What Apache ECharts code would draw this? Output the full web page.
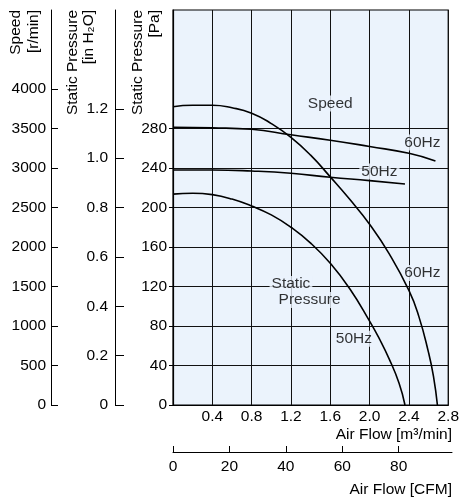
<!DOCTYPE html>
<html><head><meta charset="utf-8">
<script src="https://cdn.jsdelivr.net/npm/echarts@6/dist/echarts.min.js"></script>
<style>html,body{margin:0;padding:0;background:#fff}#c{width:462px;height:500px}</style>
</head><body><div id="c"></div>
<script>
// Static pressure [Pa] vs air flow [m3/min]
const p60Flow = [0, 0.2, 0.4, 0.6, 0.8, 1.0, 1.2, 1.4, 1.6, 1.8, 2.0, 2.2, 2.4, 2.5, 2.6, 2.65, 2.69];
const p60Pa   = [302, 303.5, 303.5, 301, 295.5, 285, 271, 253, 231, 208, 183, 153, 116, 90, 53, 29, 0];
const p50Flow = [0, 0.2, 0.4, 0.6, 0.8, 1.0, 1.2, 1.4, 1.6, 1.8, 2.0, 2.1, 2.2, 2.3, 2.36];
const p50Pa   = [213.5, 214.5, 213, 208.5, 201.5, 192.5, 180, 164, 143.5, 117.5, 85, 67, 46.5, 22, 0];
// Speed [r/min] vs air flow [m3/min]
const s60Flow = [0, 0.4, 0.8, 1.2, 1.6, 2.0, 2.4, 2.67];
const s60Rpm  = [3515, 3508, 3490, 3420, 3352, 3272, 3186, 3089];
const s50Flow = [0, 0.4, 0.8, 1.2, 1.6, 2.0, 2.36];
const s50Rpm  = [2975, 2975, 2962, 2933, 2882, 2840, 2797];
// Tick labels
const flowTicks = [0.4, 0.8, 1.2, 1.6, 2.0, 2.4, 2.8];
const cfmTicks = [0, 20, 40, 60, 80];
const paTicks = [0, 40, 80, 120, 160, 200, 240, 280];
const inH2OTicks = [0, 0.2, 0.4, 0.6, 0.8, 1.0, 1.2];
const rpmTicks = [0, 500, 1000, 1500, 2000, 2500, 3000, 3500, 4000];
// Annotations [flow, Pa, text]
const noteFlow = [1.6, 2.537, 2.10, 1.20, 1.39, 2.537, 1.84];
const notePa   = [305.3, 265.8, 236.5, 122.5, 106.3, 133.7, 67];
const noteText = ['Speed', '60Hz', '50Hz', 'Static', 'Pressure', '60Hz', '50Hz'];

const FONT = '"Liberation Sans", Arial, sans-serif';
const FS = 15.5;
const BG = '#ebf3fc';
const zip = (a, b) => a.map((v, i) => [v, b[i]]);

const chart = echarts.init(document.getElementById('c'), null, {renderer: 'canvas'});
const lineSeries = (name, data, yIdx) => ({
  name, type: 'line', xAxisIndex: 0, yAxisIndex: yIdx, data,
  smooth: 0.5, symbol: 'none', z: 4,
  lineStyle: {color: '#000', width: 1.6}
});
const txt = {color: '#000', fontFamily: FONT, fontSize: FS};

chart.setOption({
  animation: false,
  textStyle: {fontFamily: FONT},
  grid: [
    {left: 173, top: 10, width: 279, height: 395, show: true, backgroundColor: BG, borderColor: '#000', borderWidth: 1.2},
    {left: 173, top: 440, width: 279, height: 12, show: false}
  ],
  xAxis: [
    {gridIndex: 0, type: 'value', min: 0, max: 2.8, interval: 0.4, position: 'bottom',
     axisLine: {show: true, lineStyle: {color: '#000', width: 1.2}},
     axisTick: {show: false},
     axisLabel: Object.assign({customValues: flowTicks, margin: 4, formatter: v => v.toFixed(1)}, txt),
     splitLine: {show: true, lineStyle: {color: '#111', width: 1}}},
    {gridIndex: 1, type: 'value', min: 0, max: 98.88, position: 'bottom',
     axisLine: {show: true, lineStyle: {color: '#000', width: 1}},
     axisTick: {show: true, inside: true, length: 6, customValues: cfmTicks, lineStyle: {color: '#000'}},
     axisLabel: Object.assign({customValues: cfmTicks, margin: 7, formatter: v => String(v)}, txt),
     splitLine: {show: false}}
  ],
  yAxis: [
    {gridIndex: 0, type: 'value', min: 0, max: 400, interval: 40, position: 'left',
     axisLine: {show: true, lineStyle: {color: '#000', width: 1.2}},
     axisTick: {show: true, length: 4, customValues: paTicks, lineStyle: {color: '#000'}},
     axisLabel: Object.assign({customValues: paTicks, margin: 6, formatter: v => String(v)}, txt),
     splitLine: {show: true, lineStyle: {color: '#111', width: 1}}},
    {gridIndex: 0, type: 'value', min: 0, max: 1.6, position: 'left', offset: 58,
     axisLine: {show: true, lineStyle: {color: '#000', width: 1}},
     axisTick: {show: true, inside: true, length: 9, customValues: inH2OTicks, lineStyle: {color: '#000'}},
     axisLabel: Object.assign({customValues: inH2OTicks, margin: 7, formatter: v => v === 0 ? '0' : v.toFixed(1)}, txt),
     splitLine: {show: false}},
    {gridIndex: 0, type: 'value', min: 0, max: 5000, position: 'left', offset: 122,
     axisLine: {show: true, lineStyle: {color: '#000', width: 1}},
     axisTick: {show: true, inside: true, length: 7, customValues: rpmTicks, lineStyle: {color: '#000'}},
     axisLabel: Object.assign({customValues: rpmTicks, margin: 5, formatter: v => String(v)}, txt),
     splitLine: {show: false}},
    {gridIndex: 1, type: 'value', show: false, min: 0, max: 1}
  ],
  series: [
    {type: 'scatter', xAxisIndex: 0, yAxisIndex: 0, z: 3, symbolSize: 1, silent: true,
     itemStyle: {color: 'rgba(0,0,0,0)'},
     data: noteFlow.map((x, i) => ({value: [x, notePa[i]], name: noteText[i]})),
     label: Object.assign({show: true, position: 'inside', formatter: p => p.name,
       backgroundColor: BG, padding: [0, 2]}, txt)},
    lineSeries('p60', zip(p60Flow, p60Pa), 0),
    lineSeries('p50', zip(p50Flow, p50Pa), 0),
    lineSeries('s60', zip(s60Flow, s60Rpm), 2),
    lineSeries('s50', zip(s50Flow, s50Rpm), 2)
  ],
  graphic: [
    {type: 'text', x: 25, y: 10, rotation: Math.PI / 2,
     style: {text: 'Speed\n[r/min]', font: FS + 'px ' + FONT, fill: '#000', textAlign: 'right', textVerticalAlign: 'middle', lineHeight: 18}},
    {type: 'text', x: 81, y: 10, rotation: Math.PI / 2,
     style: {text: 'Static Pressure\n[in H\u2082O]', font: FS + 'px ' + FONT, fill: '#000', textAlign: 'right', textVerticalAlign: 'middle', lineHeight: 16}},
    {type: 'text', x: 146, y: 10, rotation: Math.PI / 2,
     style: {text: 'Static Pressure\n[Pa]', font: FS + 'px ' + FONT, fill: '#000', textAlign: 'right', textVerticalAlign: 'middle', lineHeight: 17}},
    {type: 'text', x: 452, y: 435,
     style: {text: 'Air Flow [m\u00b3/min]', font: FS + 'px ' + FONT, fill: '#000', textAlign: 'right', textVerticalAlign: 'middle'}},
    {type: 'text', x: 452, y: 490,
     style: {text: 'Air Flow [CFM]', font: FS + 'px ' + FONT, fill: '#000', textAlign: 'right', textVerticalAlign: 'middle'}}
  ]
});
</script>
</body></html>
